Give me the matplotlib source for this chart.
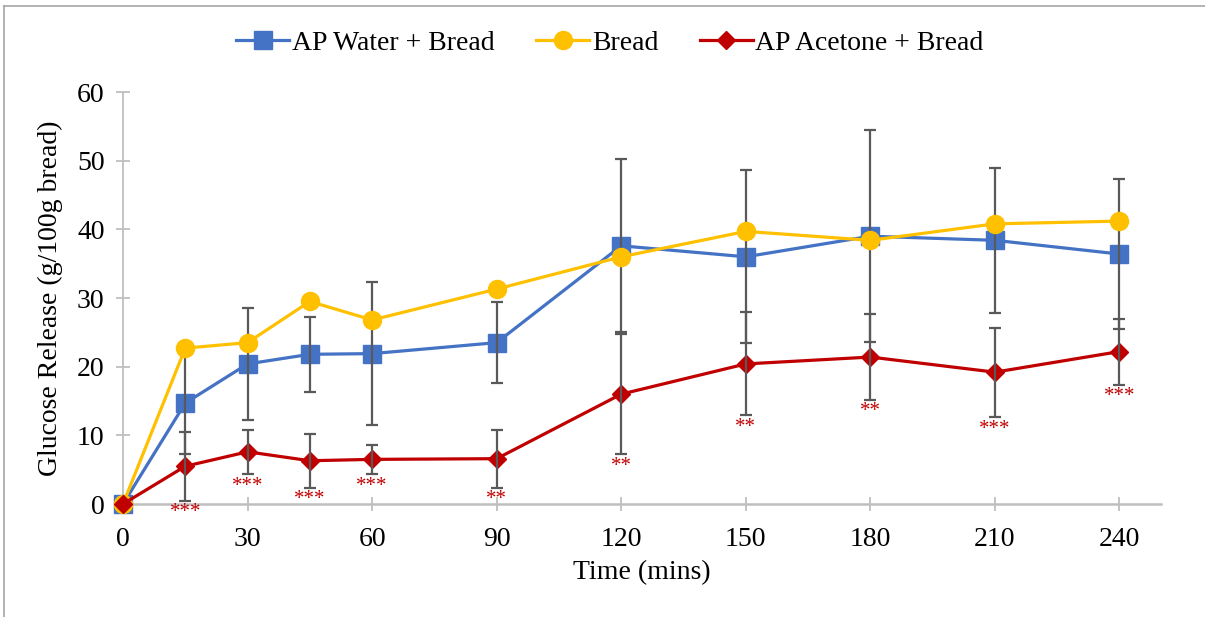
import matplotlib
matplotlib.use("Agg")
import matplotlib.pyplot as plt
from matplotlib.lines import Line2D

# data
time = [0, 15, 30, 45, 60, 90, 120, 150, 180, 210, 240]
ap_water = [0, 14.7, 20.4, 21.8, 21.9, 23.5, 37.6, 36.0, 39.0, 38.4, 36.4]
ap_water_err = [0, 7.4, 8.2, 5.5, 10.4, 5.9, 12.6, 12.6, 15.4, 10.6, 10.9]
bread = [0, 22.7, 23.5, 29.5, 26.8, 31.3, 36.0, 39.7, 38.4, 40.8, 41.2]
ap_acetone = [0, 5.5, 7.6, 6.3, 6.5, 6.6, 16.0, 20.4, 21.4, 19.2, 22.2]
ap_acetone_err = [0, 5.0, 3.2, 3.9, 2.1, 4.2, 8.7, 7.5, 6.2, 6.5, 4.8]
stars = ["", "***", "***", "***", "***", "**", "**", "**", "**", "***", "***"]
xticks = [0, 30, 60, 90, 120, 150, 180, 210, 240]
yticks = [0, 10, 20, 30, 40, 50, 60]

plt.rcParams['font.family'] = ['Liberation Serif', 'DejaVu Serif']

blue = '#4472C4'
yellow = '#FFC000'
red = '#C00000'
grey = '#BFBFBF'
errc = '#595959'

fig = plt.figure(figsize=(12.05, 6.17), dpi=100)
ax = fig.add_axes([123/1205, 1-504/617, (1161-123)/1205, (504-92)/617])

# chart border (top and left only visible)
fig.add_artist(Line2D([4/1205, 1], [1-6/617, 1-6/617], color='#A6A6A6', lw=1.2))
fig.add_artist(Line2D([4/1205, 4/1205], [0, 1-6/617], color='#A6A6A6', lw=1.2))

# AP Water + Bread
ax.plot(time, ap_water, '-s', color=blue, lw=2.3, ms=12.5, zorder=3, clip_on=False)
ax.errorbar(time[1:], ap_water[1:], yerr=ap_water_err[1:], fmt='none',
            ecolor=errc, elinewidth=1.6, capsize=4, capthick=1.6, zorder=3.5)
# Bread
ax.plot(time, bread, '-o', color=yellow, lw=2.3, ms=13, zorder=4, clip_on=False)
# AP Acetone + Bread
ax.plot(time, ap_acetone, '-D', color=red, lw=2.3, ms=9.5, zorder=5, clip_on=False)
ax.errorbar(time[1:], ap_acetone[1:], yerr=ap_acetone_err[1:], fmt='none',
            ecolor=errc, elinewidth=1.6, capsize=4, capthick=1.6, zorder=5.5)

for t, v, e, s in zip(time, ap_acetone, ap_acetone_err, stars):
    if s:
        ax.annotate(s, (t, v - e), xytext=(0, -2), textcoords='offset points',
                    ha='center', va='top', color=red, fontsize=15)

ax.set_xlim(0, 250)
ax.set_ylim(0, 60)
ax.set_xticks(xticks)
ax.set_yticks(yticks)
for side in ['top', 'right']:
    ax.spines[side].set_visible(False)
ax.spines['left'].set_color(grey)
ax.spines['bottom'].set_color(grey)
ax.spines['left'].set_linewidth(1.3)
ax.spines['bottom'].set_linewidth(1.8)
ax.tick_params(axis='both', direction='inout', length=10.5, width=1.3,
               color=grey, labelsize=20)
ax.tick_params(axis='x', pad=11)
ax.tick_params(axis='y', pad=8)

ax.set_xlabel('Time (mins)', fontsize=20, labelpad=6)
ax.set_ylabel('Glucose Release (g/100g bread)', fontsize=20, labelpad=10)

handles = [
    Line2D([], [], color=blue, marker='s', lw=2.3, ms=12.5),
    Line2D([], [], color=yellow, marker='o', lw=2.3, ms=13),
    Line2D([], [], color=red, marker='D', lw=2.3, ms=9.5),
]
fig.legend(handles, ['AP Water + Bread', 'Bread', 'AP Acetone + Bread'],
           loc='center', bbox_to_anchor=(610/1205, 1-43/617), ncol=3,
           frameon=False, fontsize=20, handlelength=1.9, handletextpad=0.1,
           columnspacing=1.5)

fig.savefig('out.png', dpi=100)
